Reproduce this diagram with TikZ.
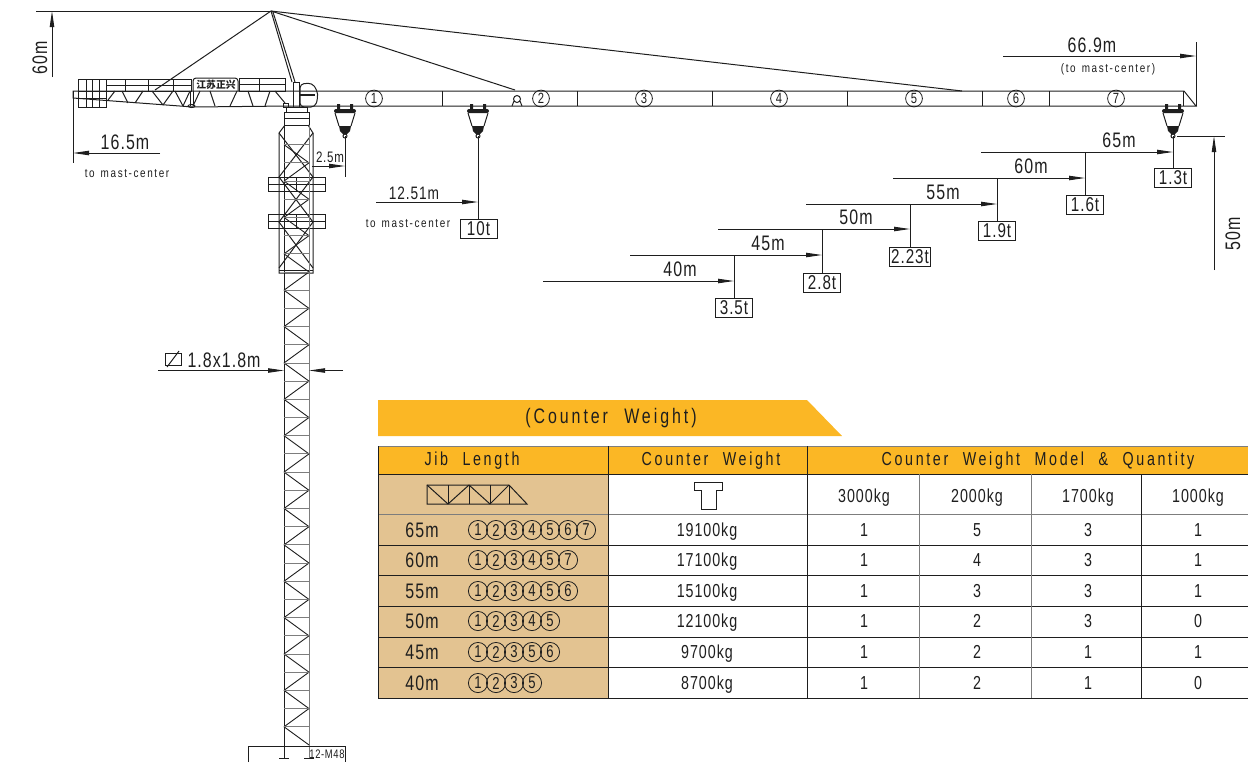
\documentclass[tikz,border=0pt]{standalone}
\usepackage{fontspec}
\setmainfont[LetterSpace=5,FakeStretch=0.76]{Liberation Sans}
\newfontfamily\headfont[LetterSpace=14,FakeStretch=0.76,WordSpace=2.2]{Liberation Sans}
\newfontfamily\notefont[LetterSpace=13,FakeStretch=0.8,WordSpace=1.4]{Liberation Sans}
\newfontfamily\cjk{Noto Sans CJK SC}
\usetikzlibrary{arrows.meta,calc}

\tikzset{
  ink/.style={line width=0.5pt, draw=inkdark},
  dimline/.style={line width=0.45pt, draw=inkdark, -{Stealth[length=8pt,width=2.2pt,inset=0pt]}},
  dimtext/.style={font=\fontsize{10.5}{10}\selectfont, text=inkdark, inner sep=0pt},
  smalltext/.style={font=\notefont\fontsize{6.2}{6}\selectfont, text=inkdark, inner sep=0pt},
  celltext/.style={font=\fontsize{9.4}{10}\selectfont, text=inkdark, inner sep=0pt},
  headtext/.style={font=\headfont\fontsize{9.4}{10}\selectfont, text=inkdark, inner sep=0pt},
  loadbox/.style={draw=inkdark, line width=0.45pt, font=\fontsize{10}{10}\selectfont, text=inkdark, minimum height=9.5pt, minimum width=18.5pt, inner sep=0.6pt},
  segcirc/.style={circle, draw=inkdark, line width=0.4pt, minimum size=8.4pt, inner sep=0pt, font=\fontsize{7.4}{6}\selectfont, text=inkdark},
  rowcirc/.style={segcirc, minimum size=9.6pt, font=\fontsize{8.6}{6}\selectfont},
  trolley/.pic={
    \fill[inkdark] (-8,0) rectangle (-5,6) (5,0) rectangle (8,6);
    \fill[inkdark, rounded corners=1pt] (-11,5) rectangle (11,9);
    \draw[ink] (-10,9) -- (-6,22) (10,9) -- (6,22);
    \fill[inkdark] (-6,22) -- (6,22) -- (5,27) -- (2,30) -- (-2,30) -- (-5,27) -- cycle;
    \draw[ink] (0,32) circle (2);
  }
}

\begin{document}
\begin{tikzpicture}[x=0.5pt,y=-0.5pt]
  \definecolor{inkdark}{RGB}{30,30,30}
  \definecolor{inkgray}{RGB}{125,125,125}
  \definecolor{bandorange}{RGB}{251,183,37}
  \definecolor{celltan}{RGB}{227,195,145}

  \useasboundingbox (0,0) rectangle (1248,762);

  % Jib: chords, section joints, tip
  \draw[ink] (290,91) -- (1184,91) -- (1196,106) -- (290,106);
  \foreach \jx in {442,577,712,847,982,1049,1183} {
    \draw[ink] (\jx,91) -- (\jx,106);
  }
  \foreach \sx/\sn in {374/1,541/2,644/3,779/4,914/5,1016/6,1116/7} {
    \node[segcirc] (seg\sn) at (\sx,98.5) {\sn};
  }

  % Counter jib
  \draw[ink] (290,91) -- (73,91) -- (73,98) -- (193,107) -- (290,106);
  \draw[ink] (78,79) rectangle (106,107);
  \foreach \gx in {86,92,99} { \draw[ink] (\gx,79) -- (\gx,107); }
  \draw[ink] (78,91) -- (106,91) (78,98) -- (106,98);
  \draw[ink] (106,79) rectangle (191,91);
  \draw[ink] (106,85) -- (191,85);
  \foreach \gx in {125,148,173} { \draw[ink] (\gx,79) -- (\gx,91); }
  \draw[ink] (239,78) rectangle (285,91);
  \draw[ink] (239,84.5) -- (285,84.5) (259,78) -- (259,91);
  \draw[ink, rounded corners=1.5pt] (193,91) -- (193,78) -- (238,78) -- (238,91);
  \node[font=\cjk\bfseries\fontsize{4.9}{5}\selectfont, text=inkdark, inner sep=0pt] (brand) at (216,85) {江苏正兴};
  \foreach \ax/\ay/\bx/\by in {108/100/115/91, 122/91/128/103, 135/103/143/91, 152/91/163/105, 173/91/163/105,
      175/91/183/106, 190/91/183/106, 200/91/193/106, 210/91/215/106, 237/91/230/106, 248/91/253/106,
      270/91/265/106, 275/91/285/103} {
    \draw[ink] (\ax,\ay) -- (\bx,\by);
  }
  \draw[ink] (190,91) -- (190,106) (193,91) -- (193,106);
  \draw[ink] (191.5,106) ellipse (3.5 and 1.5);
  \draw[ink] (283,103) rectangle (288,107);

  % Apex, ties, cab
  \coordinate (apex) at (271,11);
  \draw[ink] (apex) -- (155,90);
  \draw[ink] (apex) -- (962,91);
  \draw[ink] (apex) -- (515,90);
  \draw[ink] (apex) -- (292,82) (273,12) -- (295,82);
  \draw[ink] (293,82) rectangle (299,107);
  \draw[ink, rounded corners=2pt] (300,107) -- (300,84) -- (312,83) -- (317,90) -- (318,98) -- (315,107) -- cycle;
  \draw[line width=1pt, draw=inkdark] (300,95) -- (315,95);
  \draw[ink] (517,99) circle (3.5);
  \draw[ink] (512,106) -- (514,101) (522,106) -- (520,101);

  % Slewing ring and top of mast
  \draw[ink] (284,112) rectangle (309,125);
  \draw[ink] (286,107) rectangle (307,112);
  \draw[ink] (284,118) -- (309,118);
  \draw[ink] (285,125) -- (279,133) -- (279,273) -- (313,273) -- (313,133) -- (308,125);
  \draw[ink] (279,270) -- (313,270);
  \draw[ink] (279,133) -- (313,177) (313,133) -- (279,177);
  \draw[ink] (279,177) -- (313,222) (313,177) -- (279,222);
  \draw[ink] (279,222) -- (313,268) (313,222) -- (279,268);
  \foreach \fy in {177,214} {
    \draw[ink] (268,\fy) rectangle (325,\fy+14);
    \draw[ink] (268,\fy+7) -- (325,\fy+7) (296,\fy) -- (296,\fy+14);
  }

  % Mast: chords and zigzag panels
  \draw[ink] (284,125) -- (284,758);
  \draw[line width=0.5pt, draw=inkgray] (309,125) -- (309,758);
  \foreach \i in {0,...,32} {
    \pgfmathsetmacro{\ya}{144.67+18.19*\i}
    \pgfmathsetmacro{\yb}{\ya+18.19}
    \pgfmathsetmacro{\xa}{(mod(\i,2)==0 ? 284 : 309)}
    \pgfmathsetmacro{\xb}{(mod(\i,2)==0 ? 309 : 284)}
    \draw[line width=0.45pt, draw=inkdark] (\xa,\ya) -- (\xb,\yb);
    \draw[line width=0.45pt, draw=inkgray] (284,\ya) -- (309,\ya);
  }

  % Base
  \draw[ink] (248,762) -- (248,746) -- (345,746) -- (345,762);
  \draw[ink] (279,758.5) -- (289,758.5) (304,758.5) -- (314,758.5);
  \node[font=\fontsize{6.2}{7}\selectfont, text=inkdark, inner sep=0pt] (anchorlbl) at (327,754) {12-M48};

  % Trolleys
  \pic at (345,104) {trolley};
  \pic at (478,104) {trolley};
  \pic at (1173,104) {trolley};

  % Overall dimensions
  \coordinate (hgttop) at (52,11);
  \draw[ink] (36,11) -- (apex);
  \coordinate (hgtfoot) at (52,77);
  \draw[dimline] (hgtfoot) -- (hgttop);
  \node[dimtext, rotate=90] (hgtlbl) at (40,58) {60m};

  \coordinate (ctip) at (73,153);
  \coordinate (cend) at (160,153);
  \draw[ink] (73,91) -- (73,163);
  \draw[dimline] (cend) -- (ctip);
  \node[dimtext] (clbl) at (125,142) {16.5m};
  \node[smalltext] (cnote) at (127,174) {to mast-center};

  \coordinate (jibstart) at (1003,56);
  \coordinate (jibtip) at (1196,56);
  \draw[ink] (1196,42) -- (1196,106);
  \draw[dimline] (jibstart) -- (jibtip);
  \node[dimtext] (jiblbl) at (1092,45) {66.9m};
  \node[smalltext] (jibnote) at (1108,69) {(to mast-center)};

  % Minimum radius
  \coordinate (minstart) at (312,166);
  \coordinate (mintip) at (345,166);
  \draw[ink] (345,136) -- (345,177);
  \draw[dimline] (minstart) -- (mintip);
  \node[font=\fontsize{7.6}{8}\selectfont, text=inkdark, inner sep=0pt] (minlbl) at (330,157) {2.5m};

  % Max load at 12.51m
  \node[loadbox] (boxmax) at (478.5,229) {10t};
  \coordinate (maxhook) at (478,136);
  \coordinate (maxstart) at (376,202);
  \coordinate (maxtip) at (478,202);
  \draw[ink] (maxhook) -- (boxmax.north -| maxhook);
  \draw[dimline] (maxstart) -- (maxtip);
  \node[dimtext, font=\fontsize{9}{9}\selectfont] (maxlbl) at (414,193) {12.51m};
  \node[smalltext] (maxnote) at (408,224) {to mast-center};

  % Loads along the jib
  \foreach \lab/\yline/\xs/\xe/\ytop/\ybox/\load in {
      65m/152/981/1173/136/178/1.3t,
      60m/178/893/1085/152/205/1.6t,
      55m/204/806/997/178/230.5/1.9t,
      50m/229/718/910/204/256.5/2.23t,
      45m/255/630/822/229/282.5/2.8t,
      40m/281/543/734/255/307.5/3.5t} {
    \node[loadbox] (box\lab) at (\xe,\ybox) {\load};
    \coordinate (top\lab) at (\xe,\ytop);
    \coordinate (start\lab) at (\xs,\yline);
    \coordinate (tip\lab) at (\xe,\yline);
    \draw[ink] (top\lab) -- (box\lab.north);
    \draw[dimline] (start\lab) -- (tip\lab);
    \node[dimtext] (lbl\lab) at (\xe-54,\yline-12) {\lab};
  }

  % Height under hook
  \coordinate (hooktop) at (1214,136);
  \coordinate (hookfoot) at (1214,270);
  \draw[ink] (1177,136) -- (1225,136);
  \draw[dimline] (hookfoot) -- (hooktop);
  \node[dimtext, rotate=90] (hooklbl) at (1233,234) {50m};

  % Mast size
  \coordinate (sizeL) at (158,370.5);
  \coordinate (sizeR) at (343,370.5);
  \coordinate (mastL) at (284,370.5);
  \coordinate (mastR) at (309,370.5);
  \draw[dimline] (sizeL) -- (mastL);
  \draw[dimline] (sizeR) -- (mastR);
  \draw[ink] (165,353) rectangle (181,365);
  \draw[ink] (167,367) -- (179,351);
  \node[dimtext] (sizelbl) at (224,360) {1.8x1.8m};

  % Counter weight band
  \fill[bandorange] (378,400) -- (807,400) -- (842,436) -- (378,436) -- cycle;
  \node[headtext, font=\headfont\fontsize{10.5}{10}\selectfont] (bandlbl) at (611,418) {(Counter Weight)};

  % Table fills
  \fill[bandorange] (378,446) rectangle (1248,474);
  \fill[celltan] (378,474) rectangle (608,698);

  % Table rules
  \foreach \ry/\rc in {446/inkgray,474/inkdark,514/inkgray,545/inkdark,575/inkdark,606/inkdark,637/inkdark,667/inkdark,698/inkdark} {
    \draw[line width=0.5pt, draw=\rc] (378,\ry) -- (1248,\ry);
  }
  \foreach \cx/\ct/\cc in {378/446/inkdark,608/446/inkdark,807/446/inkdark,919/474/inkgray,1031/474/inkgray,1141/474/inkdark} {
    \draw[line width=0.5pt, draw=\cc] (\cx,\ct) -- (\cx,698);
  }

  % Table header
  \node[headtext] (headjib) at (472,461) {Jib Length};
  \node[headtext] (headcw) at (711,461) {Counter Weight};
  \node[headtext] (headmodel) at (1038,461) {Counter Weight Model \& Quantity};
  \foreach \hx/\hm in {864/3000kg,977/2000kg,1088/1700kg,1198/1000kg} {
    \node[celltext] (head\hm) at (\hx,498) {\hm};
  }

  % Jib and counter weight icons
  \draw[ink] (427,485) -- (509,485) -- (527,504) -- (427,504) -- cycle;
  \draw[ink] (448,485) -- (448,504) (469,485) -- (469,504) (490,485) -- (490,504) (509,485) -- (509,504);
  \draw[ink] (427,485) -- (448,504) (448,504) -- (469,485) (469,485) -- (490,504) (490,504) -- (509,485);
  \draw[ink] (694,482) -- (722,482) -- (722,490) -- (716,490) -- (716,509) -- (701,509) -- (701,490) -- (694,490) -- cycle;

  % Table rows
  \foreach \rowy/\len/\cw/\qa/\qb/\qc/\qd/\segs in {
      530/65m/19100kg/1/5/3/1/{1,2,3,4,5,6,7},
      560/60m/17100kg/1/4/3/1/{1,2,3,4,5,7},
      591/55m/15100kg/1/3/3/1/{1,2,3,4,5,6},
      621/50m/12100kg/1/2/3/0/{1,2,3,4,5},
      652/45m/9700kg/1/2/1/1/{1,2,3,5,6},
      683/40m/8700kg/1/2/1/0/{1,2,3,5}} {
    \node[celltext, font=\fontsize{10.5}{10}\selectfont] (len\len) at (422,\rowy) {\len};
    \node[celltext] (cw\len) at (707,\rowy+1.5) {\cw};
    \node[celltext] (qa\len) at (864,\rowy) {\qa};
    \node[celltext] (qb\len) at (977,\rowy) {\qb};
    \node[celltext] (qc\len) at (1088,\rowy) {\qc};
    \node[celltext] (qd\len) at (1198,\rowy) {\qd};
    \foreach \s [count=\n] in \segs {
      \node[rowcirc] (c\len\n) at ({478+18*(\n-1)},\rowy) {\s};
    }
  }
\end{tikzpicture}
\end{document}
